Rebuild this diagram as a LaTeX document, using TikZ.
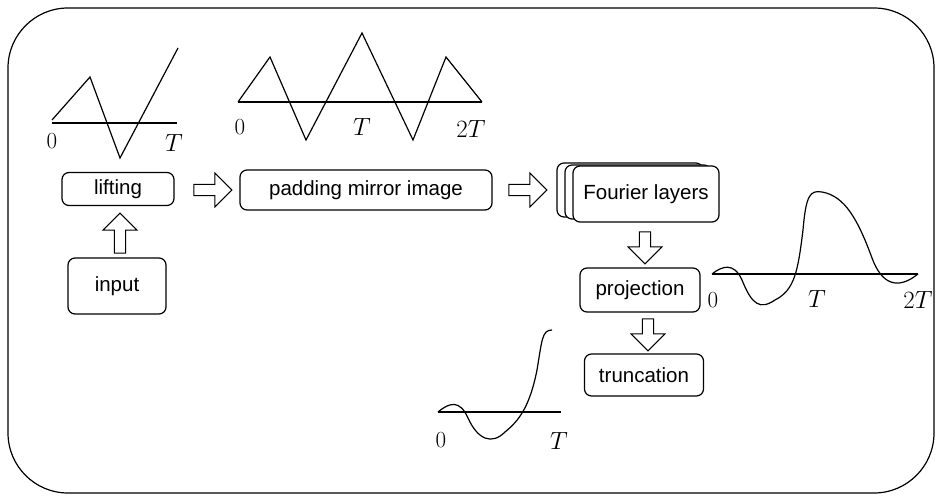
\documentclass[tikz,border=0pt]{standalone}
\usepackage{fontspec}
\setsansfont{Liberation Sans}
\usetikzlibrary{shapes.arrows}
\begin{document}
\begin{tikzpicture}[x=1pt,y=-1pt,
 box/.style={draw,rounded corners=7pt,fill=white,font=\sffamily\fontsize{20.5}{23}\selectfont},
 barr/.style={draw,single arrow,minimum height=38pt,minimum width=34pt,single arrow head extend=7pt,inner sep=3pt,line width=1pt},
 lab/.style={font=\fontsize{23}{25}\selectfont},
 line width=1.2pt]
\useasboundingbox (0,0) rectangle (942,502);
\draw[rounded corners=60pt] (8,8) rectangle (934,493);
% boxes
\node[box,minimum width=112pt,minimum height=33pt] (lift) at (118,189) {lifting};
\node[box,minimum width=98pt,minimum height=56pt] (input) at (117,286) {input};
\node[box,minimum width=252pt,minimum height=40pt] (pad) at (366,190) {padding mirror image};
\node[box,minimum width=146pt,minimum height=54pt] (f3) at (630,190) {};
\node[box,minimum width=146pt,minimum height=54pt] (f2) at (638,192) {};
\node[box,minimum width=146pt,minimum height=56pt] (four) at (646,194) {Fourier layers};
\node[box,minimum width=120pt,minimum height=44pt] (proj) at (640,290) {projection};
\node[box,minimum width=119pt,minimum height=42pt] (trunc) at (644,375) {truncation};
% block arrows
\node[barr,shape border rotate=90,minimum height=40pt] (a1) at (120,236) {};
\node[barr] (a2) at (210,190) {};
\node[barr] (a3) at (525,190) {};
\node[barr,shape border rotate=270,minimum height=32pt] (a4) at (645,245) {};
\node[barr,shape border rotate=270,minimum height=32pt] (a5) at (648,332) {};
% curve 1
\draw (52,123) -- (177,123);
\draw (52,120) -- (90,77) -- (120,158) -- (178,48);
\node[lab] (l0a) at (52,141) {0};
\node[lab] (lTa) at (174,143) {$T$};
% curve 2
\draw (238,102) -- (482,102);
\draw (238,102) -- (270,57) -- (306,140) -- (362,33) -- (413,140) -- (446,57) -- (482,102);
\node[lab] (l0b) at (240,127) {0};
\node[lab] (lTb) at (362,127) {$T$};
\node[lab] (l2b) at (471,129) {$2T$};
% curve 3
\draw (712,274) -- (918,274);
\draw (712,274) .. controls (722,266) and (734,262) .. (742,280)
  .. controls (752,305) and (760,310) .. (775,300)
  .. controls (795,290) and (798,270) .. (803,230)
  .. controls (806,195) and (810,190) .. (822,192)
  .. controls (845,196) and (858,220) .. (872,258)
  .. controls (882,285) and (898,290) .. (918,274);
\node[lab] (l0c) at (713,300) {0};
\node[lab] (lTc) at (817,299) {$T$};
\node[lab] (l2c) at (918,300) {$2T$};
% curve 4
\draw (438,412) -- (561,412);
\draw (438,412) .. controls (450,402) and (460,400) .. (468,418)
  .. controls (478,440) and (492,445) .. (505,432)
  .. controls (520,420) and (530,405) .. (537,370)
  .. controls (542,340) and (542,330) .. (552,330);
\node[lab] (l0d) at (441,440) {0};
\node[lab] (lTd) at (559,441) {$T$};
\end{tikzpicture}
\end{document}
